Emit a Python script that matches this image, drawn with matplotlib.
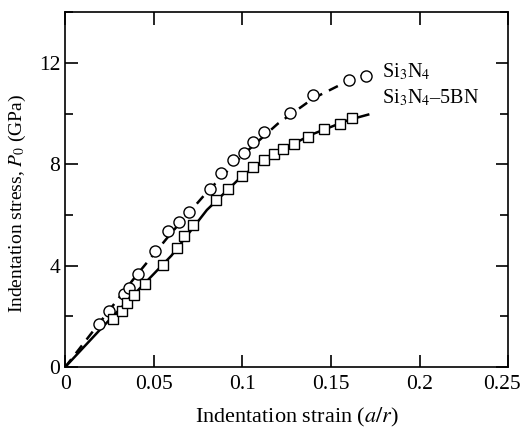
import matplotlib
matplotlib.use("Agg")
import matplotlib.pyplot as plt
import matplotlib.transforms as mtrans
from matplotlib.ticker import MultipleLocator

plt.rcParams['font.family'] = ['Liberation Serif', 'DejaVu Serif']
plt.rcParams['mathtext.fontset'] = 'stix'

# measured points, Si3N4 (circles)
si_x = [0.019, 0.025, 0.033, 0.036, 0.041, 0.051, 0.058, 0.064, 0.070, 0.082,
        0.088, 0.095, 0.101, 0.106, 0.112, 0.127, 0.140, 0.160, 0.170]
si_y = [1.72, 2.23, 2.88, 3.14, 3.66, 4.57, 5.35, 5.74, 6.13, 7.04,
        7.67, 8.15, 8.45, 8.87, 9.26, 10.04, 10.75, 11.34, 11.47]

# measured points, Si3N4-5BN (squares)
bn_x = [0.027, 0.032, 0.035, 0.039, 0.045, 0.055, 0.063, 0.067, 0.072, 0.085,
        0.092, 0.100, 0.106, 0.112, 0.118, 0.123, 0.129, 0.137, 0.146, 0.155, 0.162]
bn_y = [1.90, 2.23, 2.55, 2.85, 3.27, 4.02, 4.70, 5.18, 5.59, 6.61,
        7.04, 7.55, 7.89, 8.15, 8.41, 8.61, 8.80, 9.06, 9.39, 9.58, 9.84]

# fitted curves
fit_si_x = [0, 0.02, 0.04, 0.06, 0.08, 0.10, 0.12, 0.14, 0.16, 0.172]
fit_si_y = [0, 1.8, 3.6, 5.3, 6.9, 8.35, 9.6, 10.6, 11.3, 11.6]
fit_bn_x = [0, 0.02, 0.04, 0.06, 0.08, 0.10, 0.12, 0.14, 0.16, 0.171]
fit_bn_y = [0, 1.5, 2.95, 4.4, 6.2, 7.55, 8.5, 9.2, 9.75, 9.96]

fig = plt.figure(figsize=(5.25, 4.34), dpi=100)
ax = fig.add_axes([0.124, 0.154, 0.844, 0.818])

ax.plot(fit_si_x, fit_si_y, ls=(0, (4, 3)), color='black', lw=1.8)
ax.plot(fit_bn_x, fit_bn_y, ls='-', color='black', lw=1.8)
ax.plot(si_x, si_y, 'o', mfc='white', mec='black', ms=8, mew=1.0)
ax.plot(bn_x, bn_y, 's', mfc='white', mec='black', ms=7.5, mew=1.0)

ax.text(0.179, 11.65, r'Si$_3$N$_4$', fontsize=14.5, va='center')
ax.text(0.179, 10.6, r'Si$_3$N$_4$–5BN', fontsize=14.5, va='center')

ax.set_xlim(0, 0.25)
ax.set_ylim(0, 14)
ax.set_xticks([0, 0.05, 0.1, 0.15, 0.2, 0.25])
ax.set_xticklabels(['0', '0.05', '0.1', '0.15', '0.2', '0.25'])
ax.set_yticks([0, 4, 8, 12])
ax.yaxis.set_minor_locator(MultipleLocator(2))
ax.tick_params(which='both', direction='in', top=True, right=True, labelsize=15.5, width=1.2)
ax.tick_params(which='major', length=9)
ax.tick_params(which='minor', length=6)
ax.tick_params(axis='x', pad=6)
for s in ax.spines.values():
    s.set_linewidth(1.2)

# last x label sits a little left of its tick, as in the original
last = ax.get_xticklabels()[-1]
last.set_transform(last.get_transform() + mtrans.ScaledTranslation(-6 / 100, 0, fig.dpi_scale_trans))

ax.set_xlabel(r'Indentation strain ($a/r$)', fontsize=16, labelpad=8)
ax.xaxis.label.set_x(0.522)
ax.set_ylabel(r'Indentation stress, $P_0$ (GPa)', fontsize=14, labelpad=8)
ax.yaxis.label.set_y(0.46)

fig.savefig('out.png', dpi=100)
